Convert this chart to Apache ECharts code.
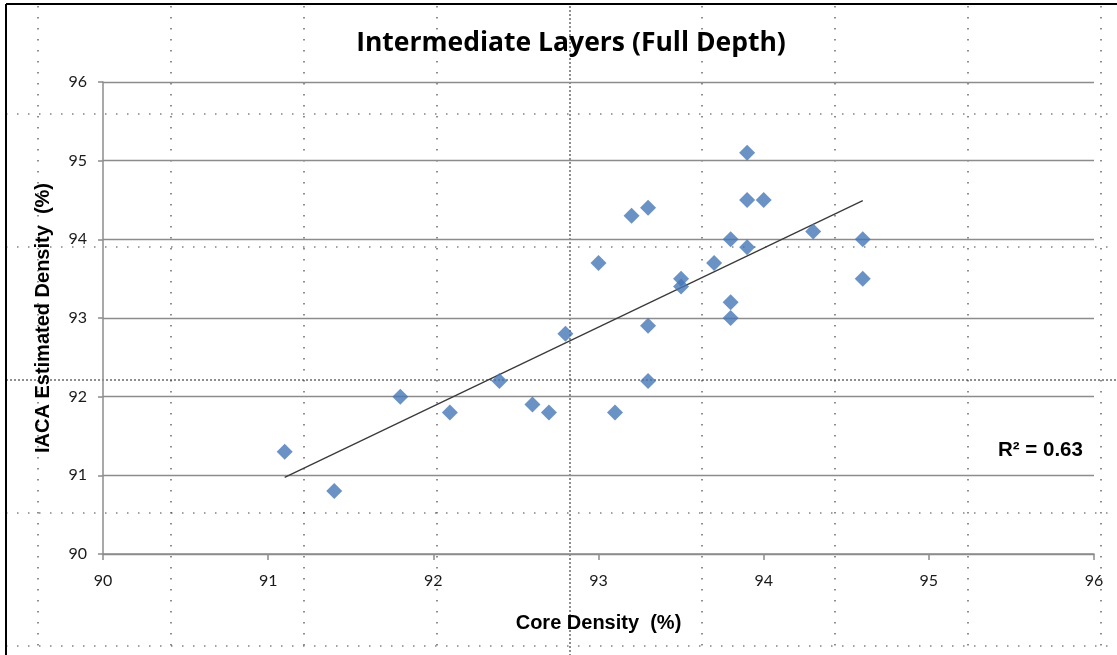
<!DOCTYPE html>
<html>
<head>
<meta charset="utf-8">
<title>Intermediate Layers (Full Depth)</title>
<script src="https://cdn.jsdelivr.net/npm/echarts@6/dist/echarts.min.js"></script>
<style>
  html, body { margin: 0; padding: 0; background: #fff; }
  #main { width: 1117px; height: 655px; }
</style>
</head>
<body>
<div id="main"></div>
<script>
// core density (x) vs IACA estimated density (y)
const coreDensity = [91.1, 91.4, 91.8, 92.1, 92.4, 92.6, 92.7, 92.8, 93.0, 93.1, 93.2, 93.3, 93.3, 93.3,
  93.5, 93.5, 93.7, 93.8, 93.8, 93.8, 93.9, 93.9, 93.9, 94.0, 94.3, 94.6, 94.6];
const iacaDensity = [91.3, 90.8, 92.0, 91.8, 92.2, 91.9, 91.8, 92.8, 93.7, 91.8, 94.3, 94.4, 92.9, 92.2,
  93.5, 93.4, 93.7, 94.0, 93.2, 93.0, 95.1, 94.5, 93.9, 94.5, 94.1, 94.0, 93.5];
const axisTicks = [90, 91, 92, 93, 94, 95, 96];
const rSquaredLabel = 'R² = 0.63';

// spreadsheet cell gridlines that show through behind the chart
const sheetCols = [38, 171, 304, 437, 570, 702, 835, 968, 1101];
const sheetRows = [114, 247, 380, 513, 646];

// linear trendline (least squares), spanning the data range
function trend(xs, ys) {
  const n = xs.length;
  let sx = 0, sy = 0, sxx = 0, sxy = 0;
  for (let i = 0; i < n; i++) {
    sx += xs[i]; sy += ys[i]; sxx += xs[i] * xs[i]; sxy += xs[i] * ys[i];
  }
  const b = (n * sxy - sx * sy) / (n * sxx - sx * sx);
  const a = (sy - b * sx) / n;
  const x0 = Math.min(...xs), x1 = Math.max(...xs);
  return [[x0, a + b * x0], [x1, a + b * x1]];
}

const points = coreDensity.map((x, i) => [x, iacaDensity[i]]);
const trendLine = trend(coreDensity, iacaDensity);

const chart = echarts.init(document.getElementById('main'));

const dots = [];
sheetCols.forEach(x => {
  dots.push({
    type: 'line', z: -10, silent: true,
    shape: { x1: x, y1: 6, x2: x, y2: 655 },
    style: { stroke: '#444', lineWidth: 1.2, lineDash: x === 570 ? [2, 2] : [1.5, 9.5] }
  });
});
sheetRows.forEach(y => {
  dots.push({
    type: 'line', z: -10, silent: true,
    shape: { x1: 6, y1: y, x2: 1117, y2: y },
    style: { stroke: '#444', lineWidth: 1.2, lineDash: y === 380 ? [2, 2] : [1.5, 9.5] }
  });
});

const option = {
  animation: false,
  backgroundColor: '#fff',
  title: {
    text: 'Intermediate Layers (Full Depth)',
    left: 566,
    textAlign: 'center',
    top: 25,
    textStyle: { fontFamily: 'Open Sans', fontWeight: 'bold', fontSize: 26.5, color: '#000' }
  },
  grid: { left: 103, right: 23, top: 82, bottom: 101 },
  xAxis: {
    type: 'value',
    min: axisTicks[0],
    max: axisTicks[axisTicks.length - 1],
    interval: 1,
    name: 'Core Density  (%)',
    nameLocation: 'middle',
    nameGap: 59,
    nameTextStyle: { fontFamily: 'Liberation Sans', fontWeight: 'bold', fontSize: 20, color: '#000' },
    axisLine: { show: true, lineStyle: { color: '#8c8c8c', width: 1.5 } },
    axisTick: { show: true, length: 6, lineStyle: { color: '#8c8c8c', width: 1.5 } },
    axisLabel: { margin: 19, fontFamily: 'Lato', fontSize: 16, color: '#1a1a1a' },
    splitLine: { show: false }
  },
  yAxis: {
    type: 'value',
    min: axisTicks[0],
    max: axisTicks[axisTicks.length - 1],
    interval: 1,
    name: 'IACA Estimated Density  (%)',
    nameLocation: 'middle',
    nameGap: 50,
    nameTextStyle: { fontFamily: 'Liberation Sans', fontWeight: 'bold', fontSize: 20, color: '#000' },
    axisLine: { show: true, lineStyle: { color: '#8c8c8c', width: 1.5 } },
    axisTick: { show: true, length: 5, lineStyle: { color: '#8c8c8c', width: 1.5 } },
    axisLabel: { margin: 16, fontFamily: 'Lato', fontSize: 16, color: '#1a1a1a' },
    splitLine: { show: true, lineStyle: { color: '#8c8c8c', width: 1.3 } }
  },
  series: [
    {
      name: 'trend',
      type: 'line',
      data: trendLine,
      symbol: 'none',
      silent: true,
      z: 1,
      lineStyle: { color: '#3a3a3a', width: 1.3 }
    },
    {
      name: 'density',
      type: 'scatter',
      data: points,
      symbol: 'diamond',
      symbolSize: 16,
      z: 3,
      itemStyle: { color: '#4677b6' }
    }
  ],
  graphic: dots.concat([
    {
      type: 'line', silent: true,
      shape: { x1: 6, y1: 4, x2: 1117, y2: 4 },
      style: { stroke: '#000', lineWidth: 2 }
    },
    {
      type: 'line', silent: true,
      shape: { x1: 6, y1: 4, x2: 6, y2: 655 },
      style: { stroke: '#000', lineWidth: 2 }
    },
    {
      type: 'text',
      left: 998,
      top: 440,
      style: {
        text: rSquaredLabel,
        font: 'bold 20.5px "Liberation Sans"',
        fill: '#000'
      }
    }
  ])
};

chart.setOption(option);
window.addEventListener('resize', () => chart.resize());
</script>
</body>
</html>
